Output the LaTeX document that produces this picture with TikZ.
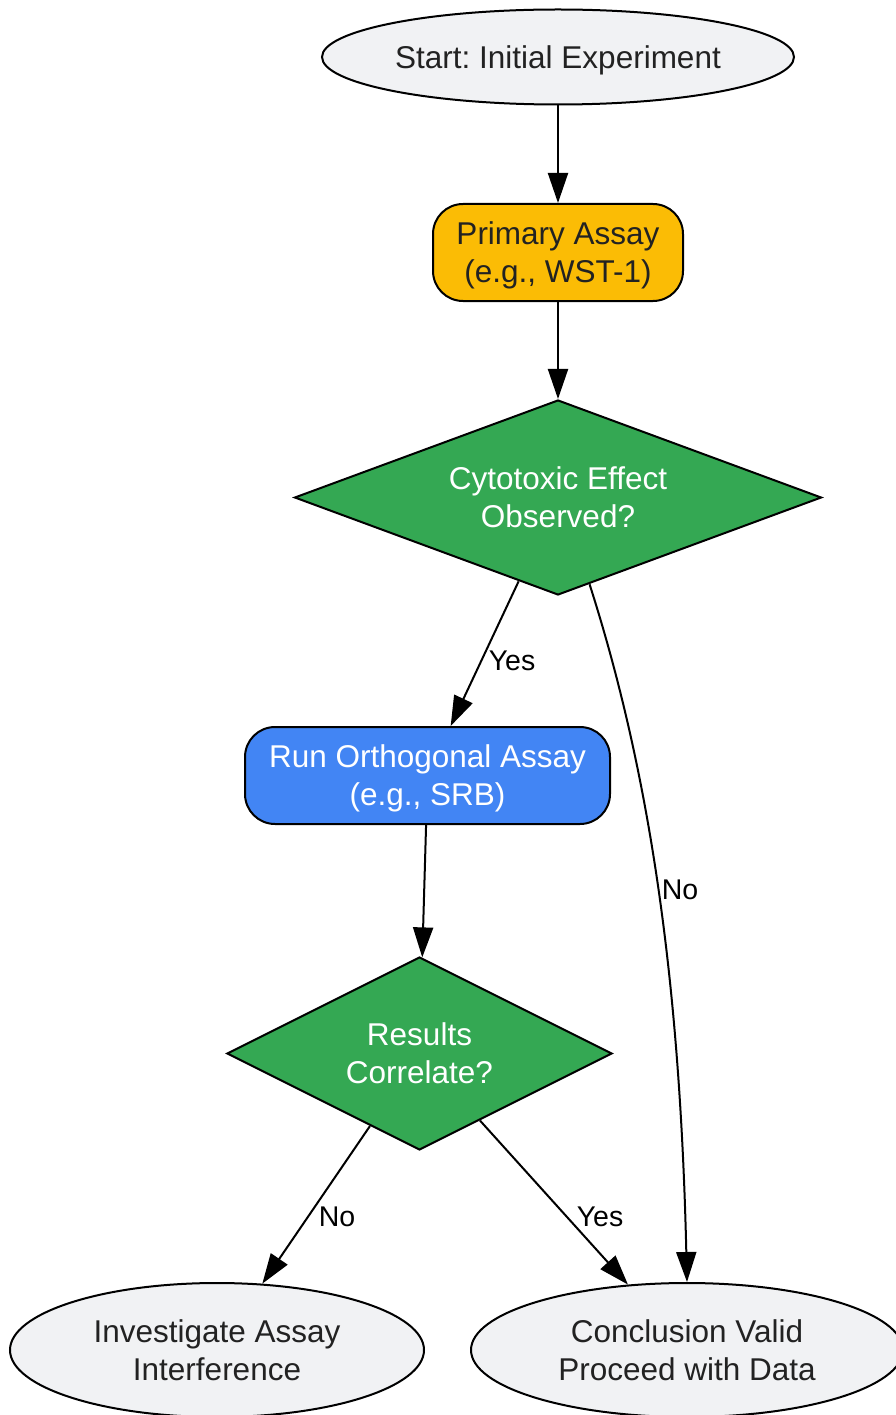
\documentclass[tikz,border=0pt]{standalone}
\usepackage{fontspec}
\setmainfont{Liberation Sans}
\usetikzlibrary{shapes.geometric,arrows.meta}
\definecolor{gfill}{HTML}{F1F2F4}
\definecolor{amber}{HTML}{FBBC05}
\definecolor{ggreen}{HTML}{34A853}
\definecolor{gblue}{HTML}{4285F4}
\definecolor{txt}{HTML}{222222}
\frenchspacing
\begin{document}
\begin{tikzpicture}[x=1pt,y=1pt,
  base/.style={draw=black, line width=2pt, align=center, font=\fontsize{31.5}{38}\selectfont, inner sep=0pt, text depth=0pt, text=txt},
  term/.style={base, ellipse, fill=gfill},
  proc/.style={base, rectangle, rounded corners=30pt},
  dec/.style={base, diamond, fill=ggreen, text=white},
  arr/.style={draw=black, line width=2pt, -{Triangle[length=30pt,width=20pt]}},
  lbl/.style={font=\fontsize{28.5}{32}\selectfont, text=black, inner sep=0pt}]
\useasboundingbox (0,0) rectangle (895,-1415);
\node[term, minimum width=472pt, minimum height=95pt] (start) at (558,-57) {Start: Initial Experiment};
\node[proc, fill=amber, minimum width=250pt, minimum height=97pt] (prim) at (558,-252.5) {Primary Assay\\(e.g., WST-1)};
\node[dec, shape aspect=2.7, minimum width=527pt, minimum height=195pt] (d1) at (558,-497.5) {Cytotoxic Effect\\Observed?};
\node[proc, fill=gblue, text=white, minimum width=365pt, minimum height=97pt] (run) at (427.5,-775.5) {Run Orthogonal Assay\\(e.g., SRB)};
\node[dec, shape aspect=2, minimum width=385pt, minimum height=193pt] (d2) at (419.5,-1053.5) {Results\\Correlate?};
\node[term, minimum width=414pt, minimum height=134pt] (inv) at (217,-1350) {Investigate Assay\\Interference};
\node[term, minimum width=432pt, minimum height=134pt] (conc) at (687,-1350) {Conclusion Valid\\Proceed with Data};

\draw[arr] (start) -- (prim);
\draw[arr] (prim) -- (d1);
\draw[arr] (d1) -- (run);
\draw[arr] (d1.-70) .. controls (650,-773) and (680,-981) .. (conc.north);
\draw[arr] (run) -- (d2);
\draw[arr] (d2) -- (inv);
\draw[arr] (d2) -- (conc);

\node[lbl] (l1) at (512,-661) {Yes};
\node[lbl] (l2) at (680,-890) {No};
\node[lbl] (l3) at (337,-1217) {No};
\node[lbl] (l4) at (600,-1217) {Yes};
\end{tikzpicture}
\end{document}
